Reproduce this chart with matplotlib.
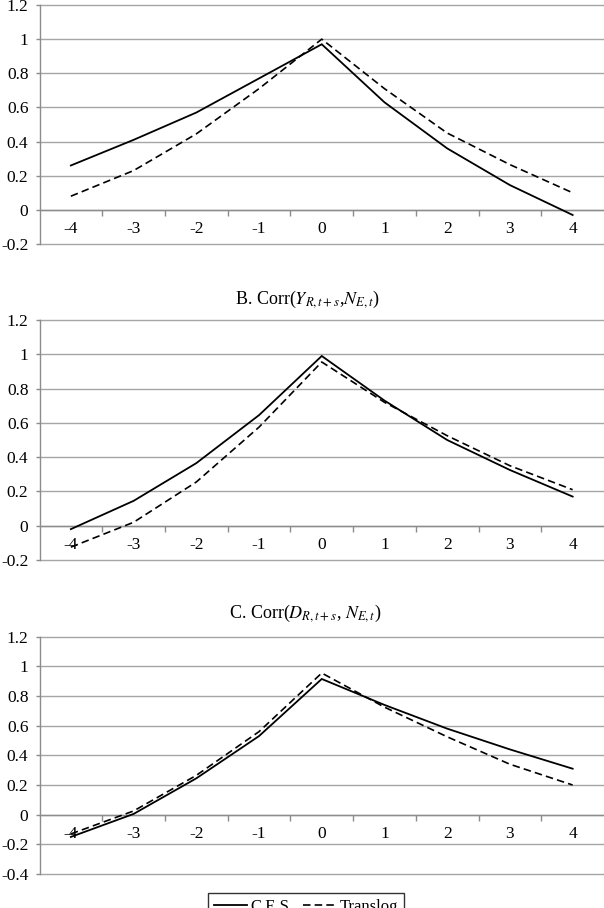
import matplotlib
matplotlib.use("Agg")
import matplotlib.pyplot as plt
import numpy as np

plt.rcParams['font.family'] = ['Liberation Serif', 'DejaVu Serif']
plt.rcParams['mathtext.fontset'] = 'stix'

lags = [-4, -3, -2, -1, 0, 1, 2, 3, 4]
lag_labels = ["-4", "-3", "-2", "-1", "0", "1", "2", "3", "4"]

ces_a = [0.26, 0.41, 0.57, 0.77, 0.97, 0.63, 0.36, 0.145, -0.03]
translog_a = [0.08, 0.23, 0.445, 0.71, 1.00, 0.71, 0.45, 0.265, 0.10]

ces_b = [-0.02, 0.145, 0.365, 0.645, 0.99, 0.73, 0.50, 0.325, 0.17]
translog_b = [-0.125, 0.02, 0.255, 0.575, 0.955, 0.72, 0.525, 0.35, 0.21]

ces_c = [-0.15, 0.005, 0.245, 0.53, 0.915, 0.74, 0.58, 0.44, 0.31]
translog_c = [-0.13, 0.025, 0.265, 0.56, 0.955, 0.725, 0.525, 0.34, 0.20]

yticks_ab = [-0.2, 0, 0.2, 0.4, 0.6, 0.8, 1.0, 1.2]
ylabels_ab = ["-0.2", "0", "0.2", "0.4", "0.6", "0.8", "1", "1.2"]
yticks_c = [-0.4, -0.2, 0, 0.2, 0.4, 0.6, 0.8, 1.0, 1.2]
ylabels_c = ["-0.4", "-0.2", "0", "0.2", "0.4", "0.6", "0.8", "1", "1.2"]

title_b = r"B. Corr($Y_{R,t+s}$,$N_{E,t}$)"
title_c = r"C. Corr($D_{R,t+s}$, $N_{E,t}$)"
series_names = ["C.E.S.", "Translog"]

W, H = 604, 908
fig = plt.figure(figsize=(W / 100, H / 100), dpi=100)

def frac(top_px, bottom_px, left_px=39.5, right_px=604):
    return [left_px / W, 1 - bottom_px / H, (right_px - left_px) / W, (bottom_px - top_px) / H]

panels = [
    (frac(5, 244), ces_a, translog_a, yticks_ab, ylabels_ab, (-0.2, 1.2), None, None),
    (frac(320, 560), ces_b, translog_b, yticks_ab, ylabels_ab, (-0.2, 1.2), title_b, (307, 304)),
    (frac(636.7, 874), ces_c, translog_c, yticks_c, ylabels_c, (-0.4, 1.2), title_c, (305, 618)),
]

grid_col = "#a6a6a6"
axis_col = "#8c8c8c"
fs = 12.5

handles = None
for rect, ces, tl, yt, yl, ylim, title, tpos in panels:
    ax = fig.add_axes(rect)
    ax.set_xlim(-4.5, 4.5)
    ax.set_ylim(*ylim)
    ax.set_yticks(yt)
    ax.set_yticklabels(yl, fontsize=fs)
    for y in yt:
        ax.axhline(y, color=grid_col, lw=1.0, zorder=1, clip_on=False)
    for s in ['top', 'right']:
        ax.spines[s].set_visible(False)
    ax.spines['left'].set_color(axis_col)
    ax.spines['left'].set_linewidth(1.0)
    ax.spines['bottom'].set_position(('data', 0))
    ax.spines['bottom'].set_color(axis_col)
    ax.spines['bottom'].set_linewidth(1.0)
    ax.spines['bottom'].set_zorder(2)
    ax.set_xticks(lags)
    ax.set_xticklabels(lag_labels, fontsize=fs)
    ax.set_xticks(np.arange(-3.5, 4.0, 1.0), minor=True)
    ax.tick_params(axis='x', which='major', length=0, pad=8)
    ax.tick_params(axis='x', which='minor', length=4, direction='out', color=axis_col, width=1.0)
    ax.tick_params(axis='y', which='major', length=3, direction='out', color=axis_col, width=1.0, pad=5)
    l1, = ax.plot(lags, ces, color='black', lw=1.3, zorder=3, solid_joinstyle='miter')
    l2, = ax.plot(lags, tl, color='black', lw=1.2, zorder=3, linestyle=(0, (4.5, 2.5)))
    handles = [l1, l2]
    if title:
        fig.text(tpos[0] / W, 1 - tpos[1] / H, title, fontsize=13, ha='center', va='baseline')

leg = fig.legend(handles, series_names, loc='upper center', bbox_to_anchor=(306 / W, 1 - 893 / H),
                 ncol=2, fontsize=12, frameon=True, fancybox=False, edgecolor='black',
                 handlelength=2.0, columnspacing=0.6, handletextpad=0.2, borderpad=0.35,
                 borderaxespad=0)
leg.get_frame().set_linewidth(1.0)

fig.savefig("out.png", dpi=100)
